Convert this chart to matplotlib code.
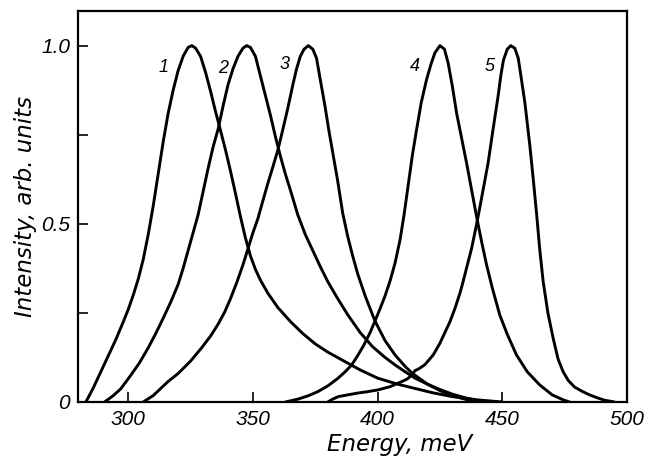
import numpy as np
import matplotlib
matplotlib.use("Agg")
import matplotlib.pyplot as plt
from matplotlib.ticker import MultipleLocator

plt.rcParams['font.family'] = ['Liberation Sans', 'DejaVu Sans']
plt.rcParams['font.style'] = 'italic'

# energy (meV) / intensity, curves 1..5
e1 = [283, 286, 289, 292, 295, 298, 300, 302, 304, 306, 308, 310, 312, 314, 316, 318, 320, 322, 324,
      325.5, 327, 329, 331, 333, 335, 337, 339, 341, 343, 345, 347, 349, 351, 353, 356, 360, 365, 370,
      375, 380, 387, 393, 400, 408, 415, 422, 430, 440, 450]
i1 = [0.0, 0.04, 0.085, 0.13, 0.175, 0.225, 0.26, 0.3, 0.345, 0.4, 0.47, 0.55, 0.64, 0.73, 0.81, 0.875,
      0.93, 0.97, 0.995, 1.0, 0.993, 0.97, 0.925, 0.872, 0.815, 0.762, 0.707, 0.648, 0.585, 0.52, 0.46,
      0.41, 0.372, 0.342, 0.305, 0.265, 0.226, 0.192, 0.163, 0.14, 0.113, 0.09, 0.067, 0.05, 0.038,
      0.026, 0.015, 0.006, 0.0]

e2 = [290.5, 294, 297, 301, 304.5, 308, 311, 314, 317, 320, 322, 324, 326, 328, 330, 332, 334, 336,
      338, 340, 342, 344, 346, 347.5, 349, 351, 353, 355, 357, 359, 361, 363, 365, 368, 371, 374, 377,
      380, 384, 388, 393, 398, 403, 407, 411, 415, 420, 425, 430, 435, 442]
i2 = [0.0, 0.018, 0.037, 0.075, 0.11, 0.152, 0.192, 0.235, 0.28, 0.33, 0.375, 0.425, 0.475, 0.525,
      0.59, 0.655, 0.715, 0.765, 0.83, 0.89, 0.935, 0.97, 0.993, 1.0, 0.995, 0.97, 0.915, 0.86, 0.805,
      0.745, 0.69, 0.64, 0.595, 0.525, 0.47, 0.425, 0.38, 0.338, 0.29, 0.245, 0.195, 0.155, 0.125,
      0.104, 0.085, 0.067, 0.05, 0.035, 0.022, 0.012, 0.0]

e3 = [306, 310, 315.9, 320, 325, 329.3, 333, 336, 338.7, 341, 343.5, 346, 348, 350, 352, 354, 356,
      358, 360, 362, 364, 366, 367.5, 369, 370.5, 372.2, 374, 375.5, 377, 378.9, 380.5, 382, 384, 386,
      388, 390, 392, 395, 398.9, 403, 407, 411, 414, 420, 425, 430, 435, 440]
i3 = [0.0, 0.018, 0.057, 0.08, 0.115, 0.151, 0.185, 0.218, 0.253, 0.29, 0.335, 0.385, 0.43, 0.475,
      0.515, 0.565, 0.614, 0.66, 0.707, 0.765, 0.825, 0.89, 0.935, 0.97, 0.99, 1.0, 0.99, 0.965, 0.905,
      0.83, 0.76, 0.7, 0.62, 0.53, 0.465, 0.41, 0.36, 0.298, 0.228, 0.172, 0.132, 0.1, 0.08, 0.05,
      0.032, 0.018, 0.008, 0.0]

e4 = [363, 368, 372, 376, 380, 384, 387, 389.6, 392, 394.5, 397, 399, 401, 403, 405, 407, 409, 410.6,
      412.5, 414, 415.6, 417.5, 419.6, 421.5, 423, 425, 426.8, 428.3, 430, 431.7, 433.7, 435.7, 437.7,
      439.7, 441.7, 443.7, 446, 449, 452, 455.7, 460, 465, 470, 474.4, 477]
i4 = [0.0, 0.008, 0.017, 0.029, 0.045, 0.066, 0.085, 0.104, 0.13, 0.16, 0.195, 0.228, 0.262, 0.298,
      0.34, 0.39, 0.455, 0.525, 0.62, 0.695, 0.763, 0.84, 0.904, 0.95, 0.98, 1.0, 0.99, 0.951, 0.885,
      0.81, 0.74, 0.67, 0.595, 0.52, 0.45, 0.385, 0.32, 0.244, 0.19, 0.132, 0.085, 0.048, 0.02, 0.006,
      0.0]

e5 = [380, 382, 384.2, 388, 392, 396, 400.2, 405, 409.6, 412, 413.6, 415, 416.5, 419, 422.3, 425, 427,
      429, 431, 433, 434.3, 436, 437.7, 439, 440.3, 442.3, 444.3, 446.3, 448.3, 449.5, 450.5, 452,
      453.4, 455, 456.4, 457.8, 459.1, 461.1, 462.5, 463.8, 465, 466.4, 468.3, 470.4, 472.4, 474.4,
      476.5, 479, 482, 485, 488, 491, 495]
i5 = [0.0, 0.008, 0.015, 0.02, 0.025, 0.029, 0.034, 0.043, 0.057, 0.065, 0.075, 0.088, 0.093, 0.105,
      0.132, 0.165, 0.195, 0.225, 0.262, 0.305, 0.338, 0.385, 0.431, 0.475, 0.52, 0.595, 0.67, 0.765,
      0.857, 0.92, 0.96, 0.99, 1.0, 0.993, 0.965, 0.9, 0.838, 0.717, 0.62, 0.525, 0.43, 0.338, 0.25,
      0.179, 0.12, 0.085, 0.06, 0.042, 0.03, 0.02, 0.012, 0.005, 0.0]

curve_names = ['1', '2', '3', '4', '5']
label_e = [314.3, 338.0, 362.5, 415.0, 445.0]
label_i = [0.94, 0.937, 0.946, 0.941, 0.941]

fig = plt.figure(figsize=(6.48, 4.61), dpi=100)
ax = fig.add_axes([0.121, 0.128, 0.8465, 0.848])

for e, i in [(e1, i1), (e2, i2), (e3, i3), (e4, i4), (e5, i5)]:
    ax.plot(e, i, color='black', lw=2.1, solid_joinstyle='round', solid_capstyle='round')

for name, x, y in zip(curve_names, label_e, label_i):
    ax.text(x, y, name, fontsize=13, ha='center', va='center')

ax.set_xlim(280, 500)
ax.set_ylim(0, 1.097)
ax.set_xticks([300, 350, 400, 450, 500])
ax.set_yticks([0, 0.5, 1.0])
ax.set_yticklabels(['0', '0.5', '1.0'])
ax.yaxis.set_minor_locator(MultipleLocator(0.25))
ax.tick_params(axis='both', which='both', direction='in', length=7, width=1.2, labelsize=15)
ax.tick_params(axis='x', pad=6)
ax.tick_params(axis='y', pad=6)
for s in ax.spines.values():
    s.set_linewidth(1.6)

ax.set_xlabel('Energy, meV', fontsize=16.5, family=['DejaVu Sans'], va='baseline')
ax.xaxis.set_label_coords(0.585, -0.125)
ax.set_ylabel('Intensity, arb. units', fontsize=16.5, family=['DejaVu Sans'], va='baseline')
ax.yaxis.set_label_coords(-0.085, 0.5)

fig.savefig('out.png', dpi=100)
